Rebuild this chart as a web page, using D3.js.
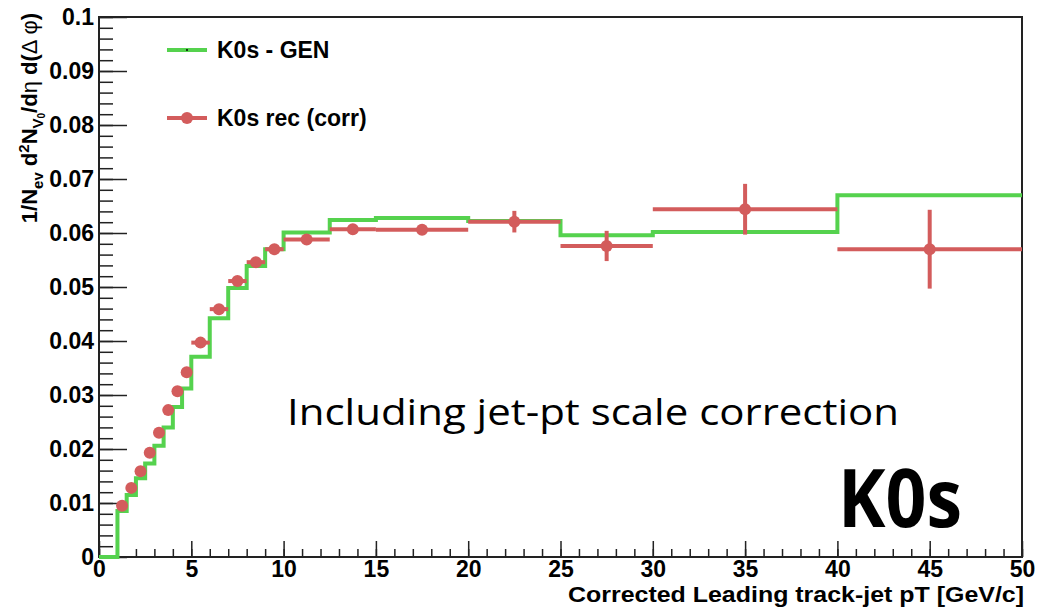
<!DOCTYPE html>
<html>
<head>
<meta charset="utf-8">
<script src="https://cdn.jsdelivr.net/npm/d3@7"></script>
<style>
  body { margin: 0; background: #fff; }
  svg { display: block; }
  .tick text { font-family: "Liberation Sans", Arial, sans-serif; font-weight: bold; font-size: 23px; fill: #000; }
</style>
</head>
<body>
<div id="chart"></div>
<script>
// bin edges of the histograms (GeV/c)
var binEdges = [0, 1, 1.5, 2, 2.5, 3, 3.5, 4, 4.5, 5, 6, 7, 8, 9, 10, 12.5, 15, 20, 25, 30, 40, 50];

// K0s - GEN, one value per bin
var genValues = [0, 0.0085, 0.0115, 0.0146, 0.0173, 0.0206, 0.0240, 0.0278, 0.0312, 0.0371,
  0.0442, 0.0498, 0.0539, 0.0570, 0.0601, 0.0624, 0.0628, 0.0622, 0.0596, 0.0602, 0.0670];

// K0s rec (corr), bins from 1 to 50
var recValues = [0.0095, 0.0128, 0.0159, 0.0193, 0.0230, 0.0272, 0.0307, 0.0342, 0.0397,
  0.0459, 0.0511, 0.0546, 0.0570, 0.0588, 0.0607, 0.0606, 0.0621, 0.0576, 0.0644, 0.0570];
var recErrors = [0.0002, 0.0002, 0.0002, 0.0002, 0.0002, 0.0002, 0.0002, 0.0003, 0.0003,
  0.0003, 0.0003, 0.0003, 0.0003, 0.0004, 0.0004, 0.0004, 0.0020, 0.0028, 0.0047, 0.0073];

var xTicks = [0, 5, 10, 15, 20, 25, 30, 35, 40, 45, 50];
var yTicks = [0, 0.01, 0.02, 0.03, 0.04, 0.05, 0.06, 0.07, 0.08, 0.09, 0.1];

var legendLabels = ["K0s - GEN", "K0s rec (corr)"];

var svgWidth = 1037;
var svgHeight = 610;

var margin = {
  top: 17,
  right: 15,
  bottom: 53,
  left: 99
};

var width = svgWidth - margin.left - margin.right;
var height = svgHeight - margin.top - margin.bottom;

var green = "#55d24e";
var red = "#d35c5c";
var axisFont = "'Liberation Sans', Arial, sans-serif";

var svg = d3
  .select("#chart")
  .append("svg")
  .attr("width", svgWidth)
  .attr("height", svgHeight);

var chart = svg.append("g")
  .attr("transform", "translate(" + margin.left + "," + margin.top + ")");

var x = d3.scaleLinear().domain([0, 50]).range([0, width]);
var y = d3.scaleLinear().domain([0, 0.1]).range([height, 0]);

// minor ticks first
chart.append("g")
  .attr("transform", "translate(0," + height + ")")
  .call(d3.axisBottom(x).ticks(50).tickSize(-8).tickSizeOuter(0).tickFormat(""))
  .call(g => g.select(".domain").remove());

chart.append("g")
  .call(d3.axisLeft(y).ticks(50).tickSize(-14).tickSizeOuter(0).tickFormat(""))
  .call(g => g.select(".domain").remove());

// major ticks + labels
chart.append("g")
  .attr("transform", "translate(0," + height + ")")
  .call(d3.axisBottom(x).tickValues(xTicks).tickSize(-16).tickSizeOuter(0).tickPadding(4)
    .tickFormat(d3.format("d")))
  .call(g => g.select(".domain").remove());

chart.append("g")
  .call(d3.axisLeft(y).tickValues(yTicks).tickSize(-28).tickSizeOuter(0).tickPadding(5)
    .tickFormat(d => d === 0 ? "0" : d3.format(".2~f")(d)))
  .call(g => g.select(".domain").remove());

chart.selectAll(".tick line").attr("stroke", "#222").attr("stroke-width", 1.5);

// frame
chart.append("rect")
  .attr("width", width)
  .attr("height", height)
  .attr("fill", "none")
  .attr("stroke", "#222")
  .attr("stroke-width", 2);

// GEN histogram as steps
var genPoints = genValues.map((v, i) => [binEdges[i], v]);
genPoints.push([binEdges[binEdges.length - 1], genValues[genValues.length - 1]]);

var stepLine = d3.line()
  .x(d => x(d[0]))
  .y(d => y(d[1]))
  .curve(d3.curveStepAfter);

chart.append("path")
  .datum(genPoints)
  .attr("d", stepLine)
  .attr("fill", "none")
  .attr("stroke", green)
  .attr("stroke-width", 4);

// rec points with error bars
var recData = recValues.map((v, i) => ({
  lo: binEdges[i + 1],
  hi: binEdges[i + 2],
  val: v,
  err: recErrors[i]
}));

var pts = chart.append("g").selectAll("g").data(recData).enter().append("g");

pts.append("line")
  .attr("x1", d => x(d.lo))
  .attr("x2", d => x(d.hi))
  .attr("y1", d => y(d.val))
  .attr("y2", d => y(d.val))
  .attr("stroke", red)
  .attr("stroke-width", 4);

pts.append("line")
  .attr("x1", d => x((d.lo + d.hi) / 2))
  .attr("x2", d => x((d.lo + d.hi) / 2))
  .attr("y1", d => y(d.val - d.err))
  .attr("y2", d => y(d.val + d.err))
  .attr("stroke", red)
  .attr("stroke-width", 4);

pts.append("circle")
  .attr("cx", d => x((d.lo + d.hi) / 2))
  .attr("cy", d => y(d.val))
  .attr("r", 6)
  .attr("fill", red);

// legend
var legend = svg.append("g").attr("class", "legend");

legend.append("line")
  .attr("x1", 167).attr("x2", 207).attr("y1", 50).attr("y2", 50)
  .attr("stroke", green).attr("stroke-width", 4);
legend.append("circle").attr("cx", 187).attr("cy", 50).attr("r", 1).attr("fill", "#000");

legend.append("line")
  .attr("x1", 167).attr("x2", 207).attr("y1", 118).attr("y2", 118)
  .attr("stroke", red).attr("stroke-width", 4);
legend.append("circle").attr("cx", 187).attr("cy", 118).attr("r", 6).attr("fill", red);

legend.selectAll("text")
  .data(legendLabels)
  .enter()
  .append("text")
  .attr("x", 217)
  .attr("y", (d, i) => 58 + i * 68)
  .attr("font-family", axisFont)
  .attr("font-weight", "bold")
  .attr("font-size", 23)
  .text(d => d);

// x title
svg.append("text")
  .attr("x", 1024)
  .attr("y", 602)
  .attr("text-anchor", "end")
  .attr("font-family", axisFont)
  .attr("font-weight", "bold")
  .attr("font-size", 22)
  .attr("textLength", 456)
  .attr("lengthAdjust", "spacingAndGlyphs")
  .text("Corrected Leading track-jet pT [GeV/c]");

// y title
var yTitle = svg.append("text")
  .attr("transform", "translate(37,13) rotate(-90)")
  .attr("text-anchor", "end")
  .attr("font-family", axisFont)
  .attr("font-weight", "bold")
  .attr("font-size", 22);

yTitle.append("tspan").text("1/N");
yTitle.append("tspan").attr("dy", 6).attr("font-size", 15).text("ev");
yTitle.append("tspan").attr("dy", -6).text(" d");
yTitle.append("tspan").attr("dy", -8).attr("font-size", 15).text("2");
yTitle.append("tspan").attr("dy", 8).text("N");
yTitle.append("tspan").attr("dy", 6).attr("font-size", 15).text("V");
yTitle.append("tspan").attr("dy", 2).attr("font-size", 10).text("0");
yTitle.append("tspan").attr("dy", -8).text("/d");
yTitle.append("tspan").attr("font-weight", "normal").text("\u03b7");
yTitle.append("tspan").text(" d(");
yTitle.append("tspan").attr("font-weight", "normal").text("\u0394 \u03c6");
yTitle.append("tspan").text(")");

// annotations
svg.append("text")
  .attr("x", 287)
  .attr("y", 425)
  .attr("font-family", "'Open Sans', sans-serif")
  .attr("font-size", 37)
  .attr("textLength", 612)
  .attr("lengthAdjust", "spacingAndGlyphs")
  .text("Including jet-pt scale correction");

svg.append("text")
  .attr("x", 838)
  .attr("y", 527)
  .attr("font-family", "'Open Sans', sans-serif")
  .attr("font-weight", "bold")
  .attr("font-size", 80)
  .attr("textLength", 124)
  .attr("lengthAdjust", "spacingAndGlyphs")
  .text("K0s");
</script>
</body>
</html>
